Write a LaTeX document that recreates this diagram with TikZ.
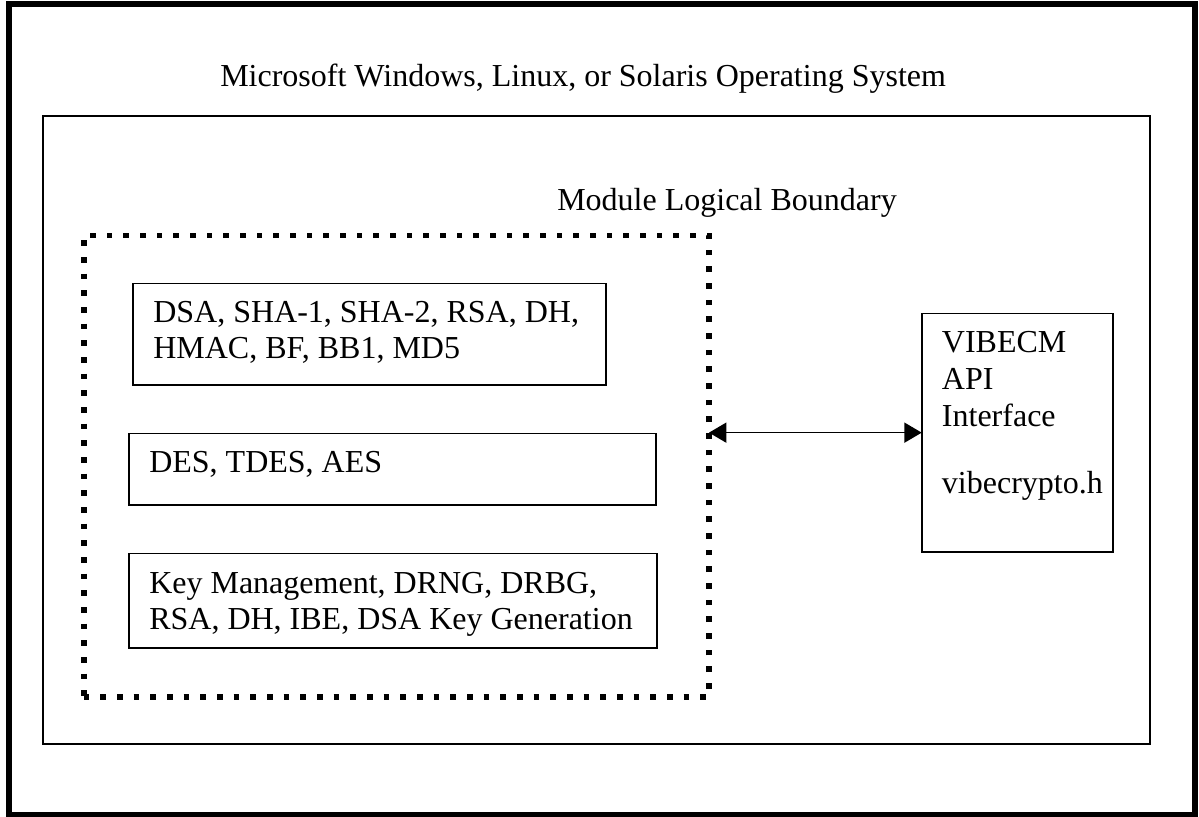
\documentclass[tikz,border=0pt]{standalone}
\usepackage{fontspec}
\setmainfont{Liberation Serif}
\usetikzlibrary{arrows.meta,fit}
\begin{document}
\begin{tikzpicture}[x=0.75pt,y=-0.75pt,
  txt/.style={anchor=base west,inner sep=0pt,align=left,font=\fontsize{24}{27}\selectfont},
  frame/.style={draw,inner sep=0pt,outer sep=0pt},
  outerframe/.style={frame,line width=4.3pt},
  innerframe/.style={frame,line width=1.7pt},
  dotframe/.style={frame,line width=4.2pt,dash pattern=on 4.2pt off 8.3pt},
  algbox/.style={frame,line width=1.2pt},
  link/.style={line width=1.1pt,{Triangle[length=13pt,width=15pt]}-{Triangle[length=13pt,width=15pt]}},
]
\useasboundingbox (0,0) rectangle (1199,817);
\node[outerframe,fit={(8.8,3.8) (1195,815)}] (os) {};
\node[innerframe,fit={(42.8,115.8) (1150,743.7)}] (mod) {};
\node[dotframe,fit={(83.7,235.5) (709,696.7)}] (dot) {};
\node[algbox,fit={(132.7,283.3) (606,385)}] (b1) {};
\node[algbox,fit={(129,433.3) (656,505)}] (b2) {};
\node[algbox,fit={(129,553.5) (657,648)}] (b3) {};
\node[algbox,fit={(921.7,313.3) (1113,552)}] (api) {};

\node[txt] (t1) at (220,87) {Microsoft Windows, Linux, or Solaris Operating System};
\node[txt] (t2) at (557,210) {Module Logical Boundary};
\node[txt] (t3) at (153,358) {DSA, SHA-1, SHA-2, RSA, DH,\\HMAC, BF, BB1, MD5};
\node[txt] (t4) at (149,472) {DES, TDES, AES};
\node[txt] (t5) at (149,629) {Key Management, DRNG, DRBG,\\RSA, DH, IBE, DSA Key Generation};
\node[txt,font=\fontsize{24}{27.5}\selectfont] (t6) at (941.7,493) {VIBECM\\API\\Interface\\[22.75pt]vibecrypto.h};

\draw[link] (api.west -| dot.east) -- (api.west);
\end{tikzpicture}
\end{document}
